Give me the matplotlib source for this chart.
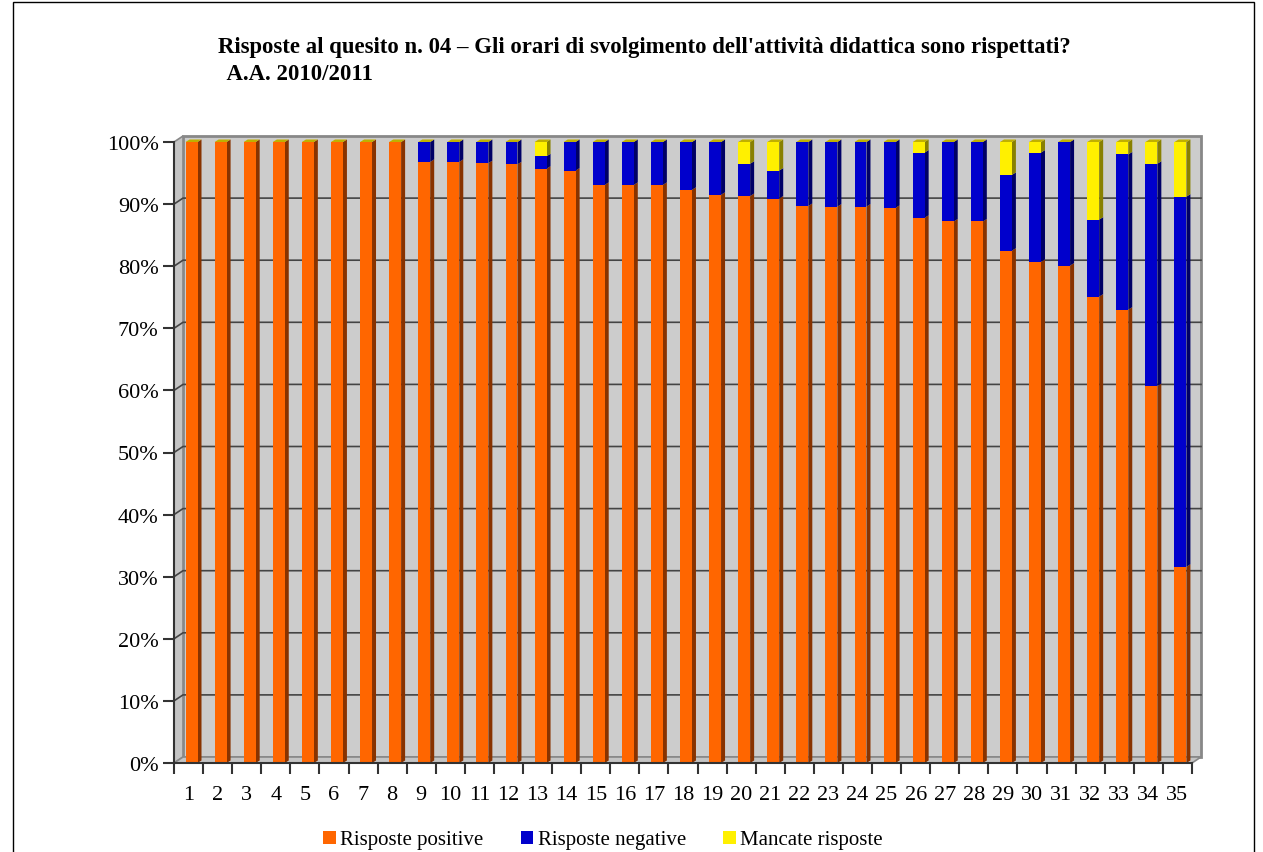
import numpy as np
import matplotlib
matplotlib.use("Agg")
import matplotlib.pyplot as plt
from matplotlib.patches import Polygon, Rectangle, Patch

# data (percent of answers per course)
courses = [str(i) for i in range(1, 36)]
positive = [100, 100, 100, 100, 100, 100, 100, 100, 96.8, 96.8,
            96.6, 96.4, 95.7, 95.4, 93.1, 93.1, 93.1, 92.3, 91.5, 91.3,
            90.9, 89.7, 89.6, 89.6, 89.4, 87.8, 87.2, 87.2, 82.5, 80.7,
            80.1, 75.1, 73.0, 60.7, 31.6]
negative = [0, 0, 0, 0, 0, 0, 0, 0, 3.2, 3.2,
            3.4, 3.6, 2.0, 4.6, 6.9, 6.9, 6.9, 7.7, 8.5, 5.2,
            4.5, 10.3, 10.4, 10.4, 10.6, 10.5, 12.8, 12.8, 12.2, 17.6,
            19.9, 12.4, 25.0, 35.8, 59.6]
missing = [100 - p - n for p, n in zip(positive, negative)]
series_names = ['Risposte positive', 'Risposte negative', 'Mancate risposte']
yticks = list(range(0, 101, 10))

front_cols = ['#FF6600', '#0000CC', '#FFF000']
side_cols = ['#883300', '#000066', '#888000']
top_col = '#C0B000'

plt.rcParams['font.family'] = ['Liberation Serif', 'DejaVu Serif']

W, H = 1263, 853
fig = plt.figure(figsize=(W / 100, H / 100), dpi=100)
left_px, right_px, top_px, bot_px = 174, 1192, 143, 764
ax = fig.add_axes([left_px / W, 1 - bot_px / H, (right_px - left_px) / W, (bot_px - top_px) / H])
n = len(courses)
ax.set_xlim(0.5, n + 0.5)
ax.set_ylim(0, 100)
ax.patch.set_visible(False)

# pixel -> data conversions for the fake 3D depth
px_x = (right_px - left_px) / n
px_y = (bot_px - top_px) / 100
wdx, wdy = 9 / px_x, 6 / px_y      # back wall offset
bdx, bdy = 4 / px_x, 2.5 / px_y    # bar depth
shift = 3 / px_x                   # bars sit a little behind the front plane

x0, x1 = 0.5, n + 0.5
# back wall, left wall, floor
ax.add_patch(Rectangle((x0 + wdx, wdy), n, 100, facecolor='#CCCCCC', edgecolor='#888888',
                       lw=2, zorder=0, clip_on=False))
ax.add_patch(Polygon([(x0, 0), (x0, 100), (x0 + wdx, 100 + wdy), (x0 + wdx, wdy)],
                     facecolor='#C4C4C4', edgecolor='#888888', lw=1.2, zorder=0.5, clip_on=False))
ax.add_patch(Polygon([(x0, 0), (x1, 0), (x1 + wdx, wdy), (x0 + wdx, wdy)],
                     facecolor='#C4C4C4', edgecolor='#888888', lw=1.2, zorder=0.5, clip_on=False))
for v in yticks[1:-1]:
    ax.plot([x0, x0 + wdx, x1 + wdx], [v, v + wdy, v + wdy], color='#444444', lw=1.2,
            zorder=0.8, clip_on=False)

xs = np.arange(1, n + 1)
xb = xs + shift
w = 0.41
bottoms = np.zeros(n)
for vals, fc, sc in zip([positive, negative, missing], front_cols, side_cols):
    vals = np.array(vals, dtype=float)
    ax.bar(xb, vals, width=w, bottom=bottoms, color=fc, zorder=3, clip_on=False)
    for xi, b, v in zip(xb, bottoms, vals):
        if v <= 0:
            continue
        xr = xi + w / 2
        ax.add_patch(Polygon([(xr, b), (xr, b + v), (xr + bdx, b + v + bdy), (xr + bdx, b + bdy)],
                             facecolor=sc, edgecolor='none', zorder=2.9, clip_on=False))
    bottoms = bottoms + vals
for xi, t in zip(xb, bottoms):
    xl, xr = xi - w / 2, xi + w / 2
    ax.add_patch(Polygon([(xl, t), (xr, t), (xr + bdx, t + bdy), (xl + bdx, t + bdy)],
                         facecolor=top_col, edgecolor='none', zorder=3.1, clip_on=False))

for s in ['top', 'right']:
    ax.spines[s].set_visible(False)
for s in ['left', 'bottom']:
    ax.spines[s].set_color('#333333')
    ax.spines[s].set_linewidth(1.5)
    ax.spines[s].set_zorder(4)

ax.set_yticks(yticks)
ax.set_yticklabels([f'{v}%' for v in yticks], fontsize=16)
ax.tick_params(axis='y', length=8, width=1.5, color='#333333', pad=3)
ax.set_xticks(np.arange(0.5, n + 1, 1))
ax.set_xticklabels([])
ax.tick_params(axis='x', which='major', length=8, width=1.5, color='#333333')
ax.set_xticks(xs, minor=True)
ax.set_xticklabels(courses, minor=True, fontsize=16)
ax.tick_params(axis='x', which='minor', length=0, pad=16)

fig.text(218 / W, 1 - 48 / H, "Risposte al quesito n. 04 \u2013 Gli orari di svolgimento dell'attivit\u00e0 didattica sono rispettati?",
         fontsize=16.4, fontweight='bold', ha='left', va='center')
fig.text(222 / W, 1 - 75 / H, " A.A. 2010/2011", fontsize=16.4, fontweight='bold', ha='left', va='center')

handles = [Patch(facecolor=c, edgecolor='none') for c in front_cols]
fig.legend(handles, series_names, loc='center', bbox_to_anchor=(603 / W, 1 - 841 / H), ncol=3,
           frameon=False, fontsize=15, handlelength=0.6, handleheight=0.6, handletextpad=0.2,
           columnspacing=1.8)

fig.add_artist(Rectangle((13 / W, -0.01), (1254 - 13) / W, 1 - 3 / H + 0.01, transform=fig.transFigure,
                         fill=False, edgecolor='black', lw=1))

fig.savefig('out.png', dpi=100)
